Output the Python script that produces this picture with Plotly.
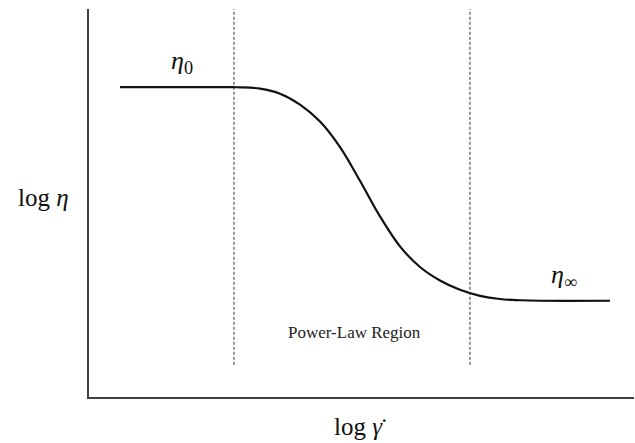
import plotly.graph_objects as go

# Viscosity curve (arbitrary log units): Newtonian plateau, power-law fall, second plateau
log_shear_rate = [5.69, 26.61, 27.71, 31.38, 35.05, 38.72, 42.39, 46.06, 49.72, 53.39, 57.06,
                  60.73, 64.40, 68.07, 71.74, 75.41, 79.08, 82.75, 95.60]
log_viscosity = [79.84, 79.84, 79.82, 79.46, 78.17, 75.37, 70.98, 64.39, 55.74, 46.56, 38.81,
                 33.51, 30.03, 27.62, 26.07, 25.25, 24.94, 24.81, 24.81]

# Boundaries of the power-law region
region_bounds = [26.6, 69.9]
bound_span = [8.3, 100]

# Label positions (data units)
eta0_pos = (17.1, 86.3)
etainf_pos = (87.2, 31.3)
region_label_pos = (48.8, 16.5)

SERIF = "Liberation Serif, Times New Roman, serif"
INK = "#111111"

fig = go.Figure()

for xb in region_bounds:
    fig.add_trace(go.Scatter(
        x=[xb, xb], y=bound_span, mode="lines",
        line=dict(color="#333333", width=1, dash="3px,2px"),
        hoverinfo="skip", showlegend=False))

fig.add_trace(go.Scatter(
    x=log_shear_rate, y=log_viscosity, mode="lines",
    line=dict(color=INK, width=2.2, shape="spline", smoothing=1),
    showlegend=False))

fig.add_annotation(x=eta0_pos[0], y=eta0_pos[1], text="<i>η</i><sub>0</sub>",
                   xanchor="center", yanchor="middle",
                   showarrow=False, font=dict(family=SERIF, size=26, color=INK))
fig.add_annotation(x=etainf_pos[0], y=etainf_pos[1], text="<i>η</i><sub>∞</sub>",
                   xanchor="center", yanchor="middle",
                   showarrow=False, font=dict(family=SERIF, size=26, color=INK))
fig.add_annotation(x=region_label_pos[0], y=region_label_pos[1], text="Power-Law Region",
                   xanchor="center", yanchor="middle",
                   showarrow=False, font=dict(family=SERIF, size=17, color="#222222"))

# Axis titles placed in paper coordinates
fig.add_annotation(xref="paper", yref="paper", x=-0.084, y=0.513,
                   xanchor="center", yanchor="middle",
                   text="log <i>η</i>", showarrow=False,
                   font=dict(family=SERIF, size=25, color=INK))
fig.add_annotation(xref="paper", yref="paper", x=0.4936, y=-0.077,
                   xanchor="center", yanchor="middle",
                   text="log <i>γ</i>", showarrow=False,
                   font=dict(family=SERIF, size=25, color=INK))
# dot over the shear-rate symbol
fig.add_annotation(xref="paper", yref="paper", x=0.541, y=-0.038,
                   xanchor="center", yanchor="top",
                   text="˙", showarrow=False,
                   font=dict(family=SERIF, size=25, color=INK))

axis_common = dict(showgrid=False, zeroline=False, showticklabels=False, ticks="",
                   showline=True, linecolor="#404040", linewidth=2)
fig.update_xaxes(range=[0, 100], **axis_common)
fig.update_yaxes(range=[0, 100], **axis_common)

fig.update_layout(
    width=635, height=443,
    margin=dict(l=89, r=1, t=9, b=46),
    plot_bgcolor="white", paper_bgcolor="white",
)

fig.write_html("out.html")
